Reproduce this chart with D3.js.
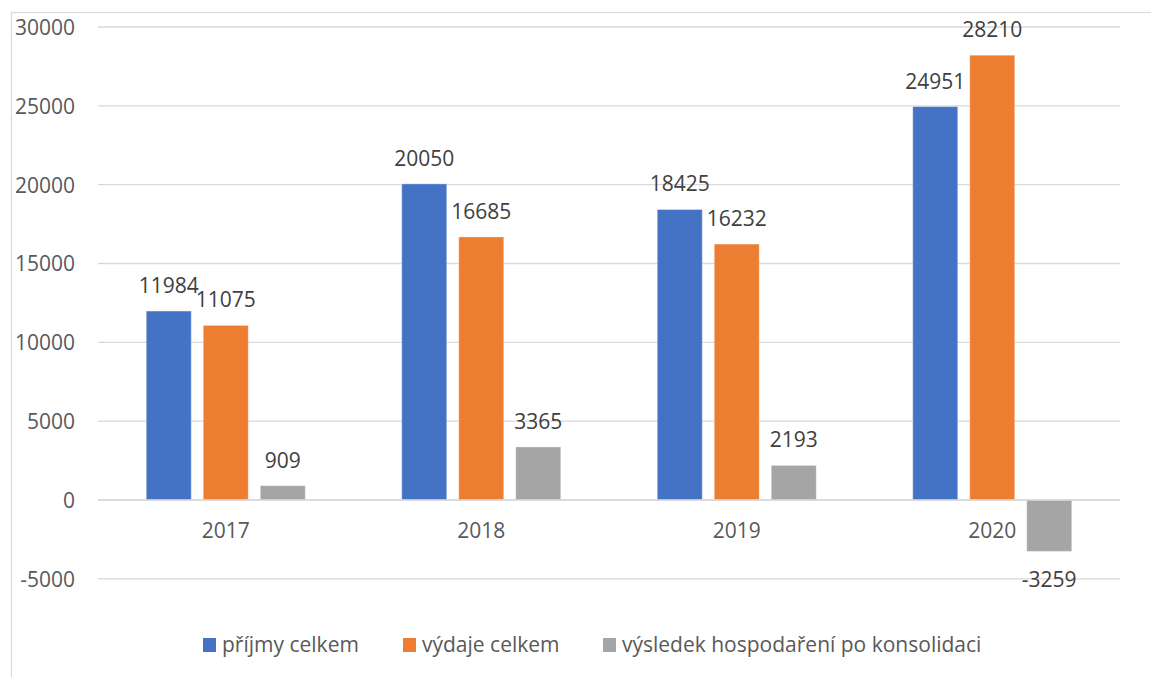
<!DOCTYPE html>
<html>
<head>
<meta charset="utf-8">
<script src="https://cdn.jsdelivr.net/npm/d3@7"></script>
<style>
  body { margin: 0; background: #fff; }
  svg { display: block; font-family: "Open Sans", "DejaVu Sans", sans-serif; }
</style>
</head>
<body>
<div id="chart"></div>
<script>
// data
const years = ["2017", "2018", "2019", "2020"];
const seriesNames = ["příjmy celkem", "výdaje celkem", "výsledek hospodaření po konsolidaci"];
const prijmy = [11984, 20050, 18425, 24951];
const vydaje = [11075, 16685, 16232, 28210];
const vysledek = [909, 3365, 2193, -3259];
const yTicks = [-5000, 0, 5000, 10000, 15000, 20000, 25000, 30000];
const colors = ["#4472C4", "#ED7D31", "#A5A5A5"];

const width = 1151;
const height = 677;
const plot = { left: 98, right: 1120, top: 27, zero: 500 };

const svg = d3.select("#chart")
  .append("svg")
  .attr("width", width)
  .attr("height", height);

// chart frame (cropped on the right and bottom)
svg.append("rect")
  .attr("x", 11.5)
  .attr("y", 12.5)
  .attr("width", 1300)
  .attr("height", 900)
  .attr("fill", "none")
  .attr("stroke", "#d9d9d9")
  .attr("stroke-width", 1.2);

const y = d3.scaleLinear()
  .domain([0, 30000])
  .range([plot.zero, plot.top]);

const x0 = d3.scaleBand()
  .domain(years)
  .range([plot.left, plot.right]);

const x1 = d3.scaleBand()
  .domain(seriesNames)
  .range([0, 159])
  .paddingInner(12 / 57);

const groupOffset = (x0.bandwidth() - 159) / 2;

// gridlines
svg.append("g")
  .selectAll("line")
  .data(yTicks)
  .join("line")
  .attr("x1", plot.left)
  .attr("x2", plot.right)
  .attr("y1", d => y(d))
  .attr("y2", d => y(d))
  .attr("stroke", "#d9d9d9")
  .attr("stroke-width", 1.4);

// y axis labels (plain hyphen for negatives, like the original)
const yAxis = svg.append("g")
  .attr("transform", "translate(75,0)")
  .call(d3.axisLeft(y).tickValues(yTicks).tickSize(0).tickPadding(0).tickFormat(d => String(d)));
yAxis.select(".domain").remove();
yAxis.selectAll("text")
  .attr("font-size", 21)
  .attr("font-family", "'Open Sans', sans-serif")
  .attr("fill", "#595959")
  .attr("dy", "0.35em");

// rows for the bars
const rows = [];
years.forEach((yr, i) => {
  [prijmy, vydaje, vysledek].forEach((arr, s) => {
    rows.push({ year: yr, series: seriesNames[s], color: colors[s], value: arr[i] });
  });
});

const barX = d => x0(d.year) + groupOffset + x1(d.series);

svg.append("g")
  .selectAll("rect")
  .data(rows)
  .join("rect")
  .attr("x", barX)
  .attr("y", d => y(Math.max(0, d.value)))
  .attr("width", x1.bandwidth())
  .attr("height", d => Math.abs(y(d.value) - y(0)))
  .attr("fill", d => d.color)
  .attr("stroke", "rgba(255,255,255,0.35)")
  .attr("stroke-width", 1);

// zero line over the bars
svg.append("line")
  .attr("x1", plot.left)
  .attr("x2", plot.right)
  .attr("y1", y(0))
  .attr("y2", y(0))
  .attr("stroke", "#d9d9d9")
  .attr("stroke-width", 1.4);

// category labels
svg.append("g")
  .selectAll("text")
  .data(years)
  .join("text")
  .attr("x", d => x0(d) + x0.bandwidth() / 2)
  .attr("y", 538)
  .attr("text-anchor", "middle")
  .attr("font-size", 21)
  .attr("fill", "#595959")
  .text(d => d);

// value labels
svg.append("g")
  .selectAll("text")
  .data(rows)
  .join("text")
  .attr("x", d => barX(d) + x1.bandwidth() / 2)
  .attr("y", d => d.value >= 0 ? y(d.value) - 18 : y(d.value) + 36)
  .attr("text-anchor", "middle")
  .attr("font-size", 21)
  .attr("fill", "#404040")
  .text(d => String(d.value));

// legend
const legendX = [203, 403, 603];
const legend = svg.append("g")
  .selectAll("g")
  .data(seriesNames)
  .join("g")
  .attr("transform", (d, i) => `translate(${legendX[i]},638)`);

legend.append("rect")
  .attr("width", 13)
  .attr("height", 14)
  .attr("fill", (d, i) => colors[i]);

legend.append("text")
  .attr("x", 19)
  .attr("y", 14)
  .attr("font-size", 21)
  .attr("fill", "#595959")
  .text(d => d);
</script>
</body>
</html>
